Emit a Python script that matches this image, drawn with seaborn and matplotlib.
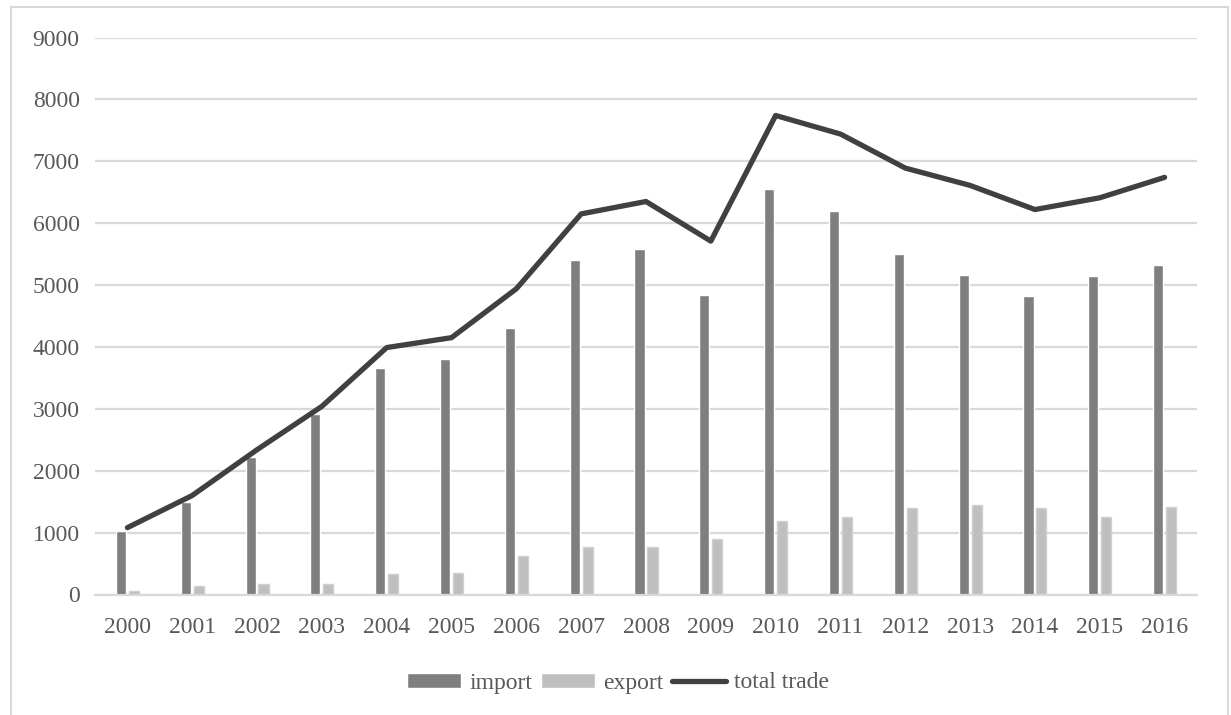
import numpy as np
import pandas as pd
import seaborn as sns
import matplotlib.pyplot as plt
from matplotlib.patches import Rectangle

years = [str(y) for y in range(2000, 2017)]
imports = [1030, 1490, 2215, 2920, 3660, 3810, 4310, 5400, 5580, 4840,
           6560, 6190, 5500, 5170, 4820, 5150, 5320]
exports = [60, 140, 175, 165, 330, 340, 630, 760, 770, 890,
           1180, 1245, 1400, 1440, 1405, 1260, 1420]
total_trade = [1080, 1600, 2340, 3040, 3990, 4150, 4940, 6150, 6350, 5710,
               7740, 7440, 6890, 6610, 6220, 6410, 6740]
series_names = ["import", "export"]

df = pd.DataFrame({
    "year": years * 2,
    "value": imports + exports,
    "series": ["import"] * len(years) + ["export"] * len(years),
})

sns.set_theme(style="white")
plt.rcParams['font.family'] = ['Liberation Serif', 'DejaVu Serif']

fig = plt.figure(figsize=(12.31, 7.15), dpi=100)
ax = fig.add_axes([95 / 1231, 1 - 594.5 / 715, (1197 - 95) / 1231, (594.5 - 37.5) / 715])

sns.barplot(data=df, x="year", y="value", hue="series", hue_order=series_names,
            palette={"import": "#7f7f7f", "export": "#bfbfbf"},
            width=0.4, gap=0.22, saturation=1, errorbar=None, ax=ax)
for bar in ax.containers[1]:
    bar.set_edgecolor("#d0d0d0")
    bar.set_linewidth(1)

sns.lineplot(x=np.arange(len(years)), y=total_trade, color="#404040", lw=3.8,
             solid_capstyle="round", label="total trade", ax=ax)

ax.set_ylim(0, 9000)
ax.set_xlim(-0.5, len(years) - 0.5)
ax.set_yticks(range(0, 9001, 1000))
ax.yaxis.grid(True, color="#d9d9d9", lw=1.6)
ax.set_axisbelow(True)
ax.set_xlabel("")
ax.set_ylabel("")
for s in ["top", "right", "left"]:
    ax.spines[s].set_visible(False)
ax.spines["bottom"].set_color("#d9d9d9")
ax.spines["bottom"].set_linewidth(1.6)
ax.tick_params(axis="x", length=0, pad=16.5, labelsize=17, labelcolor="#595959")
ax.tick_params(axis="y", length=0, pad=11, labelsize=17, labelcolor="#595959")

handles, labels = ax.get_legend_handles_labels()
ax.legend_.remove()
fig.legend(handles, labels, loc="center", bbox_to_anchor=(618 / 1231, 1 - 683 / 715),
           ncol=3, frameon=False, fontsize=17, labelcolor="#595959",
           handlelength=2.3, handleheight=0.6, handletextpad=0.35, columnspacing=0.35)

fig.patches.append(Rectangle((11 / 1231, -0.02), (1228 - 11) / 1231, (715 - 7) / 715 + 0.02,
                             transform=fig.transFigure, fill=False,
                             edgecolor="#d9d9d9", lw=1.5))

fig.savefig("out.png", dpi=100)
